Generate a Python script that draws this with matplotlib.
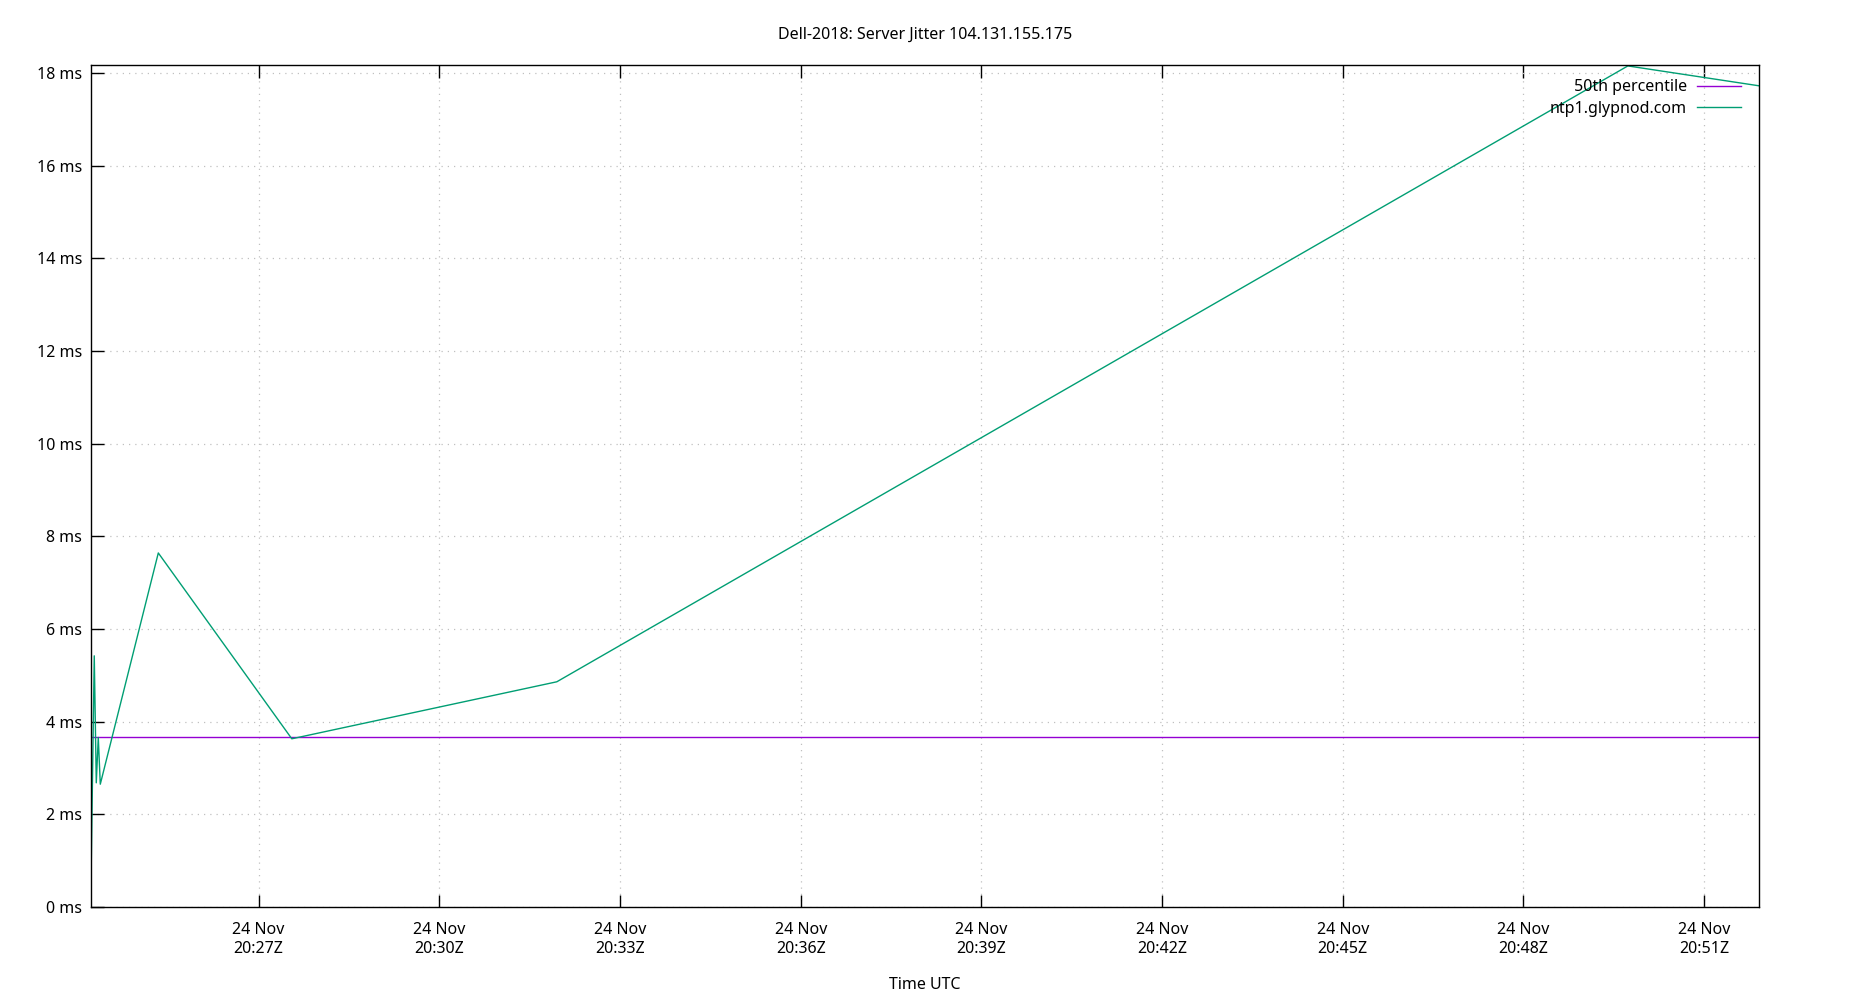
import numpy as np
import pandas as pd
import matplotlib
matplotlib.use('Agg')
import matplotlib.pyplot as plt
import matplotlib.dates as mdates
from matplotlib.ticker import FuncFormatter, MultipleLocator

plt.rcParams['font.family'] = ['Noto Sans', 'DejaVu Sans']

# jitter samples for the server
times = [
    '2018-11-24 20:24:12.6',
    '2018-11-24 20:24:16.2',
    '2018-11-24 20:24:18.2',
    '2018-11-24 20:24:20.2',
    '2018-11-24 20:24:22.2',
    '2018-11-24 20:25:20.0',
    '2018-11-24 20:27:33.0',
    '2018-11-24 20:31:57.0',
    '2018-11-24 20:49:44.0',
    '2018-11-24 20:51:55.0',
]
jitter_ms = [0.0, 5.42, 2.68, 3.66, 2.65, 7.64, 3.63, 4.86, 18.15, 17.72]
median_ms = 3.66
server_name = 'ntp1.glypnod.com'
title = 'Dell-2018: Server Jitter 104.131.155.175'

t = pd.to_datetime(times, format='ISO8601')
fs = 11.5

fig = plt.figure(figsize=(18.5, 10), dpi=100)
ax = fig.add_axes([0.049, 0.093, 0.902, 0.842])

ax.axhline(median_ms, color='#9400d3', lw=1.0, label='50th percentile')
ax.plot(t, jitter_ms, color='#009e73', lw=1.0, label=server_name)

ax.set_xlim(t[0], t[-1])
ax.set_ylim(0, 18.17)

ax.yaxis.set_major_locator(MultipleLocator(2))
ax.yaxis.set_major_formatter(FuncFormatter(lambda v, p: f'{v:.0f} ms'))
ax.xaxis.set_major_locator(mdates.MinuteLocator(byminute=range(0, 60, 3)))
ax.xaxis.set_major_formatter(mdates.DateFormatter('%d %b\n%H:%MZ'))

ax.tick_params(direction='in', length=9, width=1, top=True, right=False,
               labelsize=fs, colors='black')
ax.tick_params(axis='y', pad=6.3)
ax.tick_params(axis='x', pad=10.5)
for lab in ax.get_xticklabels():
    lab.set_horizontalalignment('center')
    lab.set_linespacing(1.3)

ax.grid(True, color='#c0c0c0', linestyle=(0, (1, 4)), lw=0.9)
for s in ax.spines.values():
    s.set_linewidth(1.0)

ax.set_title(title, fontsize=fs, pad=19)
ax.set_xlabel('Time UTC', fontsize=fs, labelpad=14)

ax.legend(loc='upper right', bbox_to_anchor=(0.989, 0.983), frameon=False,
          markerfirst=False, fontsize=fs, borderpad=0, borderaxespad=0,
          handlelength=2.75, handletextpad=0.63, labelspacing=0.33)

fig.savefig('out.png', dpi=100)
